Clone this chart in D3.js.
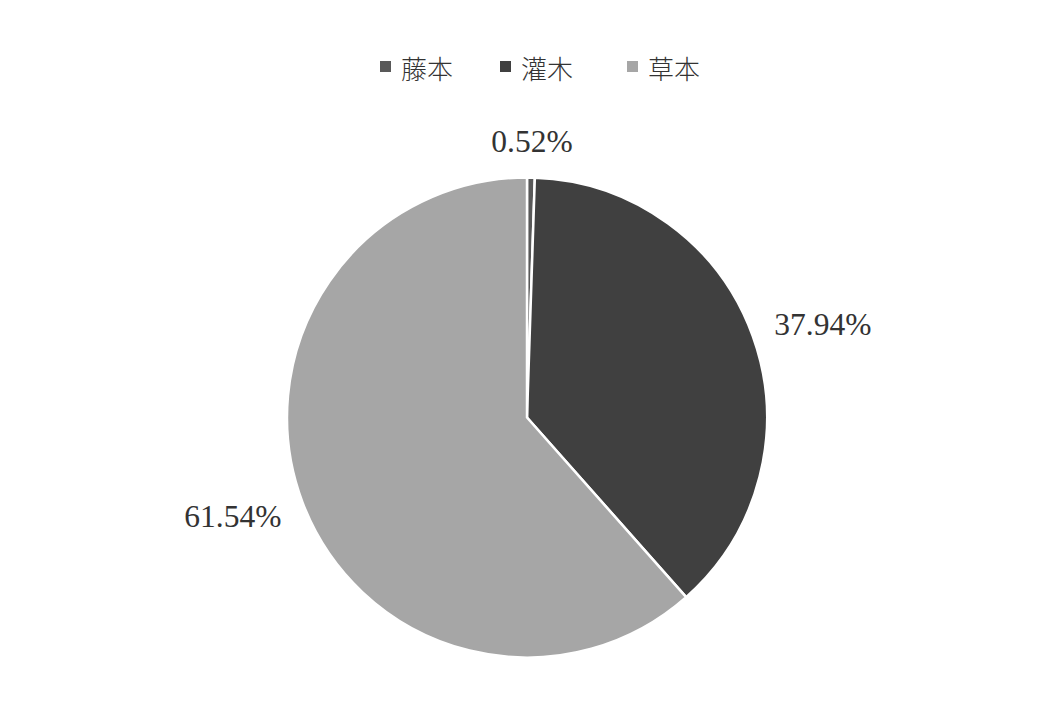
<!DOCTYPE html>
<html>
<head>
<meta charset="utf-8">
<script src="https://cdn.jsdelivr.net/npm/d3@7"></script>
<style>
  body { margin: 0; background: #fff; }
  svg { display: block; }
</style>
</head>
<body>
<svg id="chart" width="1061" height="712"></svg>
<script>
  // 生活型构成
  var categories = ['藤本', '灌木', '草本'];
  var values = [0.52, 37.94, 61.54];
  var labels = ['0.52%', '37.94%', '61.54%'];
  var colors = ['#595959', '#404040', '#a6a6a6'];

  var svg = d3.select('#chart');
  var cx = 527, cy = 417.5, radius = 240, labelR = 266;

  var pie = d3.pie().sort(null).value(function(d){ return d; });
  var arcs = pie(values);
  var arc = d3.arc().innerRadius(0).outerRadius(radius);

  var g = svg.append('g').attr('transform', 'translate(' + cx + ',' + cy + ')');

  g.selectAll('path.slice')
    .data(arcs)
    .enter().append('path')
    .attr('class', 'slice')
    .attr('d', arc)
    .attr('fill', function(d, i){ return colors[i]; })
    .attr('stroke', '#fff')
    .attr('stroke-width', 2.5)
    .attr('stroke-linejoin', 'round');

  // data labels, outside end
  g.selectAll('text.lbl')
    .data(arcs)
    .enter().append('text')
    .attr('class', 'lbl')
    .attr('font-family', '"Liberation Serif", "Times New Roman", serif')
    .attr('font-size', 31.5)
    .attr('fill', '#333')
    .attr('text-anchor', 'middle')
    .attr('dominant-baseline', 'central')
    .text(function(d, i){ return labels[i]; })
    .each(function(d){
      var a = (d.startAngle + d.endAngle) / 2;
      var w = this.getComputedTextLength(), h = 22;
      var s = Math.sin(a), c = Math.cos(a);
      var x = labelR * s + s * w / 2;
      var y = -labelR * c - c * h / 2;
      d3.select(this).attr('x', x).attr('y', y + 1);
    });

  // legend
  var legendX = [380, 500, 627];
  var legend = svg.append('g').attr('class', 'legend');
  var items = legend.selectAll('g')
    .data(categories)
    .enter().append('g')
    .attr('transform', function(d, i){ return 'translate(' + legendX[i] + ',67)'; });

  items.append('rect')
    .attr('x', 0).attr('y', -6)
    .attr('width', 11).attr('height', 11)
    .attr('fill', function(d, i){ return colors[i]; });

  items.append('text')
    .attr('x', 21)
    .attr('y', 0)
    .attr('dominant-baseline', 'central')
    .attr('font-family', '"Noto Sans CJK SC", sans-serif')
    .attr('font-size', 26)
    .attr('font-weight', 300)
    .attr('fill', '#333')
    .text(function(d){ return d; });
</script>
</body>
</html>
